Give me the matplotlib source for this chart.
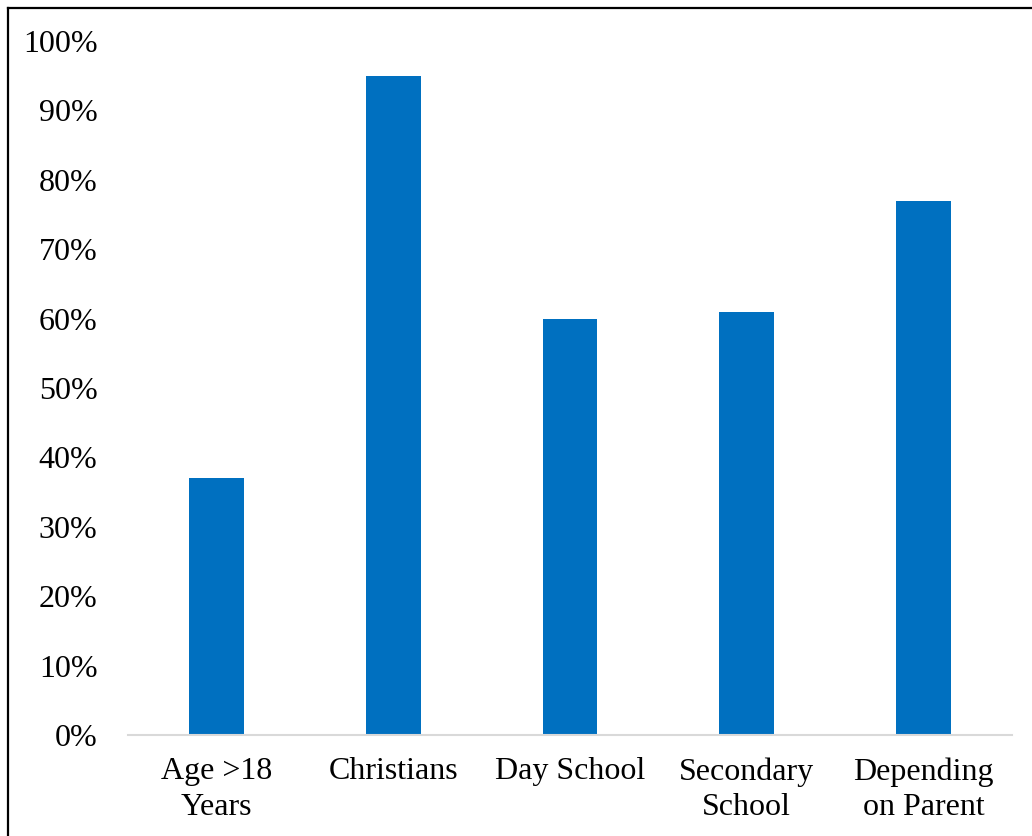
import matplotlib.pyplot as plt
from matplotlib.lines import Line2D
from matplotlib.ticker import PercentFormatter

categories = ["Age >18\nYears", "Christians", "Day School", "Secondary\nSchool", "Depending\non Parent"]
values = [37, 95, 60, 61, 77]
yticks = [0, 10, 20, 30, 40, 50, 60, 70, 80, 90, 100]

plt.rcParams['font.family'] = ['Liberation Serif', 'DejaVu Serif']

fig = plt.figure(figsize=(10.32, 8.36), dpi=100)
ax = fig.add_axes([128 / 1032, 1 - 735 / 836, 884 / 1032, 694 / 836])

x = range(len(categories))
ax.bar(x, values, width=0.31, color="#0070C0", zorder=2)

ax.set_xlim(-0.5, len(categories) - 0.5)
ax.set_ylim(0, 100)
ax.set_yticks(yticks)
ax.yaxis.set_major_formatter(PercentFormatter(decimals=0))
ax.set_xticks(list(x))
ax.set_xticklabels(categories, linespacing=1.3)

for s in ["top", "right", "left"]:
    ax.spines[s].set_visible(False)
ax.spines["bottom"].set_color("#D9D9D9")
ax.spines["bottom"].set_linewidth(1.5)

ax.tick_params(axis="y", length=0, pad=22, labelsize=23)
ax.tick_params(axis="x", length=0, pad=16, labelsize=23)

# chart border (top and left edges)
fig.add_artist(Line2D([8 / 1032, 1.0], [1 - 8 / 836, 1 - 8 / 836], color="black", lw=1.6))
fig.add_artist(Line2D([8 / 1032, 8 / 1032], [0.0, 1 - 8 / 836], color="black", lw=1.6))

fig.savefig("out.png", dpi=100)
